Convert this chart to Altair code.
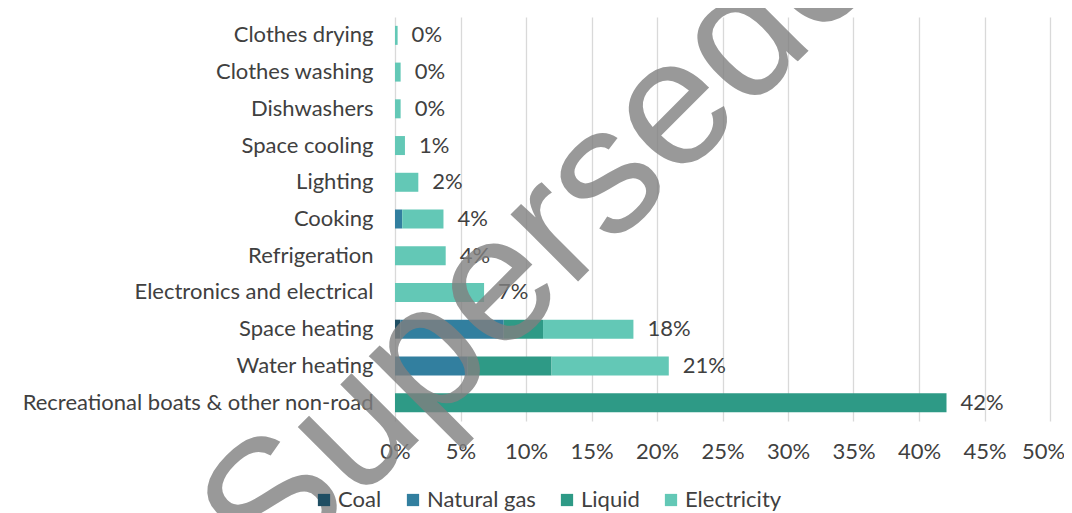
import altair as alt
import pandas as pd

categories = ["Clothes drying", "Clothes washing", "Dishwashers", "Space cooling",
              "Lighting", "Cooking", "Refrigeration", "Electronics and electrical",
              "Space heating", "Water heating", "Recreational boats & other non-road"]
fuels = ["Coal", "Natural gas", "Liquid", "Electricity"]
coal        = [0, 0, 0, 0, 0, 0, 0, 0, 0.4, 0, 0]
natural_gas = [0, 0, 0, 0, 0, 0.55, 0, 0, 7.9, 5.55, 0]
liquid      = [0, 0, 0, 0, 0, 0, 0, 0, 3.0, 6.4, 42.1]
electricity = [0.2, 0.43, 0.43, 0.76, 1.78, 3.15, 3.87, 6.8, 6.9, 8.95, 0]
fuel_colors = ["#1F4E63", "#327F9F", "#2E9A86", "#63C8B6"]
x_ticks = [0, 5, 10, 15, 20, 25, 30, 35, 40, 45, 50]
watermark_text = ["Superseded"]

series = [coal, natural_gas, liquid, electricity]
rows = []
for fi, (fuel, vals) in enumerate(zip(fuels, series)):
    for cat, v in zip(categories, vals):
        if v > 0:
            rows.append({"category": cat, "fuel": fuel, "value": v, "fuel_order": fi})
long_df = pd.DataFrame(rows)

totals = [sum(s[i] for s in series) for i in range(len(categories))]
tot_df = pd.DataFrame({"category": categories, "total": totals,
                       "label": [f"{round(t)}%" for t in totals]})

FONT = "Lato"
FS = 22
TXT = "#404040"
W, H = 655, 404

y_enc = alt.Y("category:N", sort=categories,
              scale=alt.Scale(paddingInner=0, paddingOuter=0),
              axis=alt.Axis(title=None, labelFont=FONT, labelFontSize=FS,
                            labelColor=TXT, labelPadding=22, domain=False,
                            ticks=False, grid=False, labelLimit=500))

bars = alt.Chart(long_df).mark_bar(size=19).encode(
    y=y_enc,
    x=alt.X("value:Q", stack="zero",
            scale=alt.Scale(domain=[0, 50], nice=False),
            axis=alt.Axis(values=x_ticks, labelExpr="datum.value + '%'", title=None,
                          grid=True, gridColor="#D9D9D9", gridWidth=1.3,
                          domain=False, ticks=False, labelFont=FONT,
                          labelFontSize=FS, labelColor=TXT, labelPadding=20,
                          labelFlush=False, labelOverlap=False,
                          labelOffset={"condition": {"test": "datum.value == 50", "value": -7},
                                       "value": 0})),
    color=alt.Color("fuel:N", scale=alt.Scale(domain=fuels, range=fuel_colors),
                    legend=alt.Legend(title=None, orient="none", direction="horizontal",
                                      legendX=-82, legendY=472,
                                      symbolType="square", symbolSize=150,
                                      symbolStrokeWidth=0, symbolOpacity=1,
                                      labelFont=FONT, labelFontSize=FS,
                                      labelColor=TXT, labelOffset=3,
                                      columnPadding=20)),
    order=alt.Order("fuel_order:Q"),
)

labels = alt.Chart(tot_df).mark_text(align="left", baseline="middle", dx=14,
                                     font=FONT, fontSize=FS, color=TXT).encode(
    y=alt.Y("category:N", sort=categories),
    x=alt.X("total:Q"),
    text="label:N",
)

wm = alt.Chart(pd.DataFrame({"t": watermark_text})).mark_text(
    angle=315, fontSize=180, font="Liberation Sans", color="#808080",
    opacity=0.8, align="center", baseline="middle").encode(
    text="t:N", x=alt.value(182), y=alt.value(189))

chart = alt.layer(bars, labels, wm).properties(
    width=W, height=H,
    autosize=alt.AutoSizeParams(type="none"),
    padding={"left": 387, "top": 9, "right": 14, "bottom": 92},
).configure_view(stroke=None)

chart.save("out.html", embed_options={"renderer": "svg", "actions": False})
